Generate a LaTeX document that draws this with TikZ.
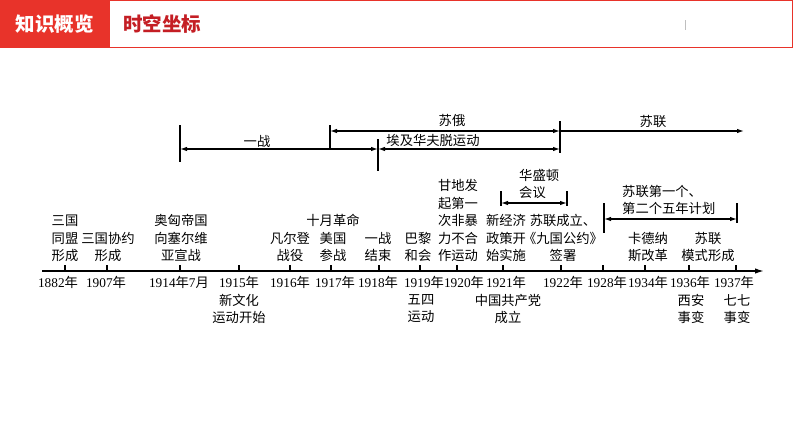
\documentclass[tikz,border=0pt]{standalone}
\usepackage{fontspec}
\setmainfont{Liberation Serif}
\newfontfamily\cjk{Noto Sans CJK SC}
\usetikzlibrary{arrows.meta,positioning}
\definecolor{hdrred}{HTML}{E8332A}
\definecolor{ttlred}{HTML}{C41E24}
\newcommand{\nian}[1]{#1{\cjk 年}}

\begin{document}
\begin{tikzpicture}[x=1pt,y=-1pt,
    evt/.style={font={\cjk\fontsize{13.3}{17.5}\selectfont}, align=center, inner sep=0pt},
    yrlabel/.style={font={\fontsize{13.3}{16}\selectfont}, inner sep=0pt, anchor=base},
    eraline/.style={line width=1.2pt, {Latex[length=7pt,width=4.5pt]}-{Latex[length=7pt,width=4.5pt]}},
    barline/.style={line width=1.4pt}]
    \useasboundingbox (0,0) rectangle (794,447);

    % Header
    \fill[hdrred] (0,0) rectangle (110,48);
    \draw[hdrred, line width=1pt] (0.5,0.5) rectangle (792.5,47.5);
    \node[font={\cjk\bfseries\fontsize{19.5}{20}\selectfont}, text=white] (hdr) at (55,24) {知识概览};
    \node[font={\cjk\bfseries\fontsize{19.5}{20}\selectfont}, text=ttlred] (ttl) at (162,24) {时空坐标};
    \draw[black!25, line width=0.8pt] (685,20) -- (685,30);

    % Timeline
    \coordinate (axs) at (42,271);
    \coordinate (axe) at (764,271);
    \draw[line width=1.5pt, -{Latex[length=9pt,width=5.5pt]}] (axs) -- (axe);
    \foreach \x/\lx/\t [count=\i] in {65/58/\nian{1882}, 107/106/\nian{1907},
        180/179/\nian{1914}7{\cjk 月}, 239/239/\nian{1915}, 290/290/\nian{1916},
        331/335/\nian{1917}, 379/378/\nian{1918}, 420/424/\nian{1919},
        457/464/\nian{1920}, 503/506/\nian{1921}, 561/563/\nian{1922},
        603/607/\nian{1928}, 645/648/\nian{1934}, 689/690/\nian{1936},
        736/734/\nian{1937}}{
        \coordinate (t\i) at (\x,271);
        \draw[line width=1.2pt] (t\i) -- ++(0,-6);
        \node[yrlabel] (yr\i) at (\lx,287) {\t};
    }

    % Events above
    \node[evt, anchor=south] (e1) at (65,262) {三国\\同盟\\形成};
    \node[evt, anchor=south] (e2) at (108,262) {三国协约\\形成};
    \node[evt, anchor=south] (e3) at (181,262) {奥匈帝国\\向塞尔维\\亚宣战};
    \node[evt, anchor=south] (e4) at (290,262) {凡尔登\\战役};
    \node[evt, anchor=south] (e5) at (333,262) {十月革命\\美国\\参战};
    \node[evt, anchor=south] (e6) at (378,262) {一战\\结束};
    \node[evt, anchor=south] (e7) at (418,262) {巴黎\\和会};
    \node[evt, anchor=south] (e8) at (458,262) {甘地发\\起第一\\次非暴\\力不合\\作运动};
    \node[evt, anchor=south] (e9) at (506,262) {新经济\\政策开\\始实施};
    \node[evt, anchor=south] (e10) at (563,262) {苏联成立、\\《九国公约》\\签署};
    \node[evt, anchor=south] (e11) at (648,262) {卡德纳\\斯改革};
    \node[evt, anchor=south] (e12) at (708,262) {苏联\\模式形成};

    % Events below
    \node[evt, anchor=north] (b1) at (239,294) {新文化\\运动开始};
    \node[evt, anchor=north] (b2) at (421,294) {五四\\运动};
    \node[evt, anchor=north] (b3) at (508,294) {中国共产党\\成立};
    \node[evt, anchor=north] (b4) at (691,294) {西安\\事变};
    \node[evt, anchor=north] (b5) at (737,294) {七七\\事变};

    % Periods
    \coordinate (v1a) at (180,125); \coordinate (v1b) at (180,162);
    \coordinate (v2a) at (330,125); \coordinate (v2b) at (330,149);
    \coordinate (v3a) at (378,139); \coordinate (v3b) at (378,171);
    \coordinate (v4a) at (560,121); \coordinate (v4b) at (560,153);
    \draw[barline] (v1a) -- (v1b);
    \draw[barline] (v2a) -- (v2b);
    \draw[barline] (v3a) -- (v3b);
    \draw[barline] (v4a) -- (v4b);
    \coordinate (ws) at (180,149); \coordinate (wm) at (378,149); \coordinate (we) at (560,149);
    \coordinate (rs) at (330,131); \coordinate (rm) at (560,131); \coordinate (re) at (744,131);
    \draw[eraline] (ws) -- (wm);
    \draw[eraline] (wm) -- (we);
    \draw[eraline] (rs) -- (rm);
    \draw[line width=1.2pt, -{Latex[length=7pt,width=4.5pt]}] (rm) -- (re);
    \node[evt, anchor=base] (war) at (257,146) {一战};
    \node[evt, anchor=base] (egy) at (433,145) {埃及华夫脱运动};
    \node[evt, anchor=base] (sr) at (452,125) {苏俄};
    \node[evt, anchor=base] (su) at (653,126) {苏联};

    % Washington conference
    \coordinate (wa1) at (501,191); \coordinate (wa2) at (501,206);
    \coordinate (wb1) at (567,191); \coordinate (wb2) at (567,206);
    \coordinate (wc1) at (501,203); \coordinate (wc2) at (567,203);
    \draw[barline] (wa1) -- (wa2);
    \draw[barline] (wb1) -- (wb2);
    \draw[eraline] (wc1) -- (wc2);
    \node[evt, align=left, anchor=south west] (wash) at (519,199) {华盛顿\\会议};

    % Five-year plans
    \coordinate (fa1) at (604,203); \coordinate (fa2) at (604,233);
    \coordinate (fb1) at (737,203); \coordinate (fb2) at (737,223);
    \coordinate (fc1) at (604,219); \coordinate (fc2) at (737,219);
    \draw[barline] (fa1) -- (fa2);
    \draw[barline] (fb1) -- (fb2);
    \draw[eraline] (fc1) -- (fc2);
    \node[evt, align=left, anchor=south west] (plan) at (622,215) {苏联第一个、\\第二个五年计划};
\end{tikzpicture}
\end{document}
